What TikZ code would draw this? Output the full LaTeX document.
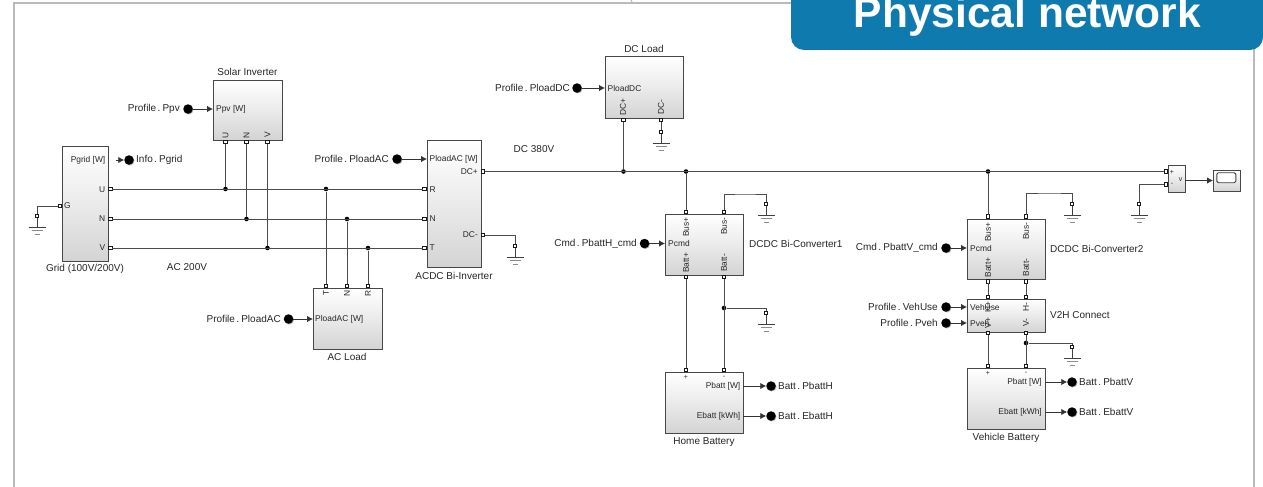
\documentclass[tikz,border=0pt]{standalone}
\usepackage{fontspec}
\setmainfont{Liberation Sans}
\usetikzlibrary{arrows.meta,shadows}
\definecolor{bannerblue}{HTML}{0F7AAD}
\newcommand{\sigfont}{\fontsize{10}{12}\selectfont\spaceskip=1.3pt\relax}
\tikzset{
  block/.style={rectangle,draw=black!72,line width=1pt,outer sep=0pt,top color=white,bottom color=black!17,middle color=white!92!black,
    drop shadow={shadow xshift=1pt,shadow yshift=-1pt,opacity=.35,fill=black}},
  port/.style={rectangle,draw=black!90,fill=white,line width=1pt,inner sep=0pt,minimum size=3.6pt,outer sep=0pt},
  jn/.style={circle,fill=black,inner sep=0pt,minimum size=4.6pt},
  tag/.style={circle,fill=black,inner sep=0pt,minimum size=9.5pt,outer sep=0pt,
    drop shadow={shadow xshift=.7pt,shadow yshift=-.7pt,opacity=.35,fill=black}},
  txt/.style={font=\fontsize{10}{12}\selectfont,text=black!85,inner sep=0pt},
  sigtxt/.style={font=\sigfont,text=black!85,inner sep=0pt},
  intxt/.style={font=\fontsize{8.4}{10}\selectfont,text=black!85,inner sep=0pt},
  rottxt/.style={intxt,rotate=90},
  tinytxt/.style={font=\fontsize{7}{8}\selectfont,text=black!85,inner sep=0pt},
  wire/.style={draw=black!70,line width=1pt},
  sig/.style={draw=black!80,line width=.9pt,-{Latex[length=6pt,width=6.5pt]}},
  gnd/.pic={
    \draw[black!75,line width=1pt] (0,2) -- (0,11);
    \draw[black!75,line width=1pt] (-8.5,11) -- (8.5,11);
    \draw[black!45,line width=.8pt] (-5.5,14.5) -- (5.5,14.5);
    \draw[black!45,line width=.8pt] (-2.5,18) -- (2.5,18);
  }
}
\begin{document}
\begin{tikzpicture}[x=1pt,y=-1pt]
      \useasboundingbox (0,0) rectangle (1263,487);
      \clip (0,0) rectangle (1263,487);
      \draw[black!27,line width=2pt] (13.5,487) -- (13.5,3) -- (1254,3) -- (1254,487);
      \draw[black!27,line width=1pt] (631,0) -- (633,4);
      \draw
        (1027,15) node[fill=bannerblue,rounded corners=13pt,minimum width=472pt,minimum height=70pt] (banner){}
        (1027.5,28) node[anchor=base,font=\bfseries\fontsize{42.5}{44}\selectfont,text=white,inner sep=0pt] (bannertext){Physical network};
      \draw
        (85,203.5) node[block,minimum width=46pt,minimum height=115pt] (grid){}
        (247.5,110) node[block,minimum width=69pt,minimum height=60pt] (solar){}
        (454,203.5) node[block,minimum width=54pt,minimum height=127pt] (acdc){}
        (347.5,318.5) node[block,minimum width=69pt,minimum height=61pt] (acload){}
        (644,87.5) node[block,minimum width=78pt,minimum height=61pt] (dcload){}
        (704,244.5) node[block,minimum width=78pt,minimum height=61pt] (convA){}
        (704,402.5) node[block,minimum width=78pt,minimum height=61pt] (home){}
        (1006,249) node[block,minimum width=78pt,minimum height=60pt] (convB){}
        (1006,315.5) node[block,minimum width=78pt,minimum height=33pt] (vtoh){}
        (1006,398.5) node[block,minimum width=78pt,minimum height=61pt] (veh){}
        (1176.5,178.5) node[block,minimum width=17pt,minimum height=27pt] (volt){}
        (1226.5,180.5) node[block,minimum width=27pt,minimum height=21pt] (scopebox){}
        (1226.3,177.7) node[draw=black!75,fill=white,line width=.9pt,rounded corners=1.5pt,inner sep=0pt,minimum width=19pt,minimum height=10pt] (scopescreen){};
      \draw
        (85,269) node[txt] (gridname){Grid (100V/200V)}
        (247.5,72) node[txt] (solarname){Solar Inverter}
        (454,276) node[txt] (acdcname){ACDC Bi-Inverter}
        (347,357) node[txt] (acloadname){AC Load}
        (644,49) node[txt] (dcloadname){DC Load}
        (749,244) node[txt,anchor=west] (convAname){DCDC Bi-Converter1}
        (704,442) node[txt] (homename){Home Battery}
        (1050,248.5) node[txt,anchor=west] (convBname){DCDC Bi-Converter2}
        (1050,315) node[txt,anchor=west] (vtohname){V2H Connect}
        (1006,438) node[txt] (vehname){Vehicle Battery}
        (187,267) node[txt] (acvolt){AC 200V}
        (534,149) node[txt] (dcvolt){DC 380V};
      \draw
        (105.5,160) node[intxt,anchor=east] (gridP){Pgrid [W]}
        (105.5,189.5) node[intxt,anchor=east] (gridUt){U}
        (105.5,219) node[intxt,anchor=east] (gridNt){N}
        (105.5,248) node[intxt,anchor=east] (gridVt){V}
        (64,206) node[intxt,anchor=west] (gridGt){G}
        (216,109) node[intxt,anchor=west] (solarP){Ppv [W]}
        (225.5,135) node[rottxt] (solarUt){U}
        (246.5,135) node[rottxt] (solarNt){N}
        (267.5,135) node[rottxt] (solarVt){V}
        (429.5,159) node[intxt,anchor=west] (acdcP){PloadAC [W]}
        (429.5,189.5) node[intxt,anchor=west] (acdcRt){R}
        (429.5,219) node[intxt,anchor=west] (acdcNt){N}
        (429.5,248) node[intxt,anchor=west] (acdcTt){T}
        (478,172) node[intxt,anchor=east] (acdcPt){DC+}
        (478,235) node[intxt,anchor=east] (acdcMt){DC-}
        (326,293) node[rottxt] (acloadTt){T}
        (347,293) node[rottxt] (acloadNt){N}
        (368,293) node[rottxt] (acloadRt){R}
        (315,319.5) node[intxt,anchor=west] (acloadP){PloadAC [W]}
        (607.5,88) node[intxt,anchor=west] (dcloadP){PloadDC}
        (623,107) node[rottxt] (dcloadPt){DC+}
        (661,107) node[rottxt] (dcloadMt){DC-}
        (668,243.5) node[intxt,anchor=west] (convAP){Pcmd}
        (686,227) node[rottxt] (convAbp){Bus+}
        (724,226) node[rottxt] (convAbm){Bus-}
        (686,263) node[rottxt] (convAap){Batt+}
        (724,263) node[rottxt] (convAam){Batt-}
        (970,248) node[intxt,anchor=west] (convBP){Pcmd}
        (988,232) node[rottxt] (convBbp){Bus+}
        (1026,231) node[rottxt] (convBbm){Bus-}
        (988,267.5) node[rottxt] (convBap){Batt+}
        (1026,267.5) node[rottxt] (convBam){Batt-}
        (970,307) node[intxt,anchor=west] (vtohU){VehUse}
        (970,323) node[intxt,anchor=west] (vtohP){Pveh}
        (988,307) node[rottxt] (vtohHp){H+}
        (1026,307) node[rottxt] (vtohHm){H-}
        (988,323) node[rottxt] (vtohVp){V+}
        (1026,323) node[rottxt] (vtohVm){V-}
        (686,377) node[tinytxt] (homePt){+}
        (724,377) node[tinytxt] (homeMt){-}
        (740.5,386.5) node[intxt,anchor=east] (homeP){Pbatt [W]}
        (740.5,416.5) node[intxt,anchor=east] (homeE){Ebatt [kWh]}
        (988,373) node[tinytxt] (vehPt){+}
        (1026,373) node[tinytxt] (vehMt){-}
        (1042,382.5) node[intxt,anchor=east] (vehP){Pbatt [W]}
        (1042,412.5) node[intxt,anchor=east] (vehE){Ebatt [kWh]}
        (1172,172) node[tinytxt] (voltPt){+}
        (1172,184.5) node[tinytxt] (voltMt){-}
        (1180.5,180) node[tinytxt] (voltVt){v};
      \draw
        (110.5,189) node[port] (gridU){}
        (110.5,219) node[port] (gridN){}
        (110.5,248) node[port] (gridV){}
        (60,206) node[port] (gridG){}
        (225.5,142) node[port] (solarU){}
        (246.5,142) node[port] (solarN){}
        (267.5,142) node[port] (solarV){}
        (424.5,189) node[port] (acdcR){}
        (424.5,219) node[port] (acdcN){}
        (424.5,248) node[port] (acdcT){}
        (483,171.5) node[port] (acdcDCp){}
        (483,235) node[port] (acdcDCm){}
        (326,286) node[port] (acloadT){}
        (347,286) node[port] (acloadN){}
        (368,286) node[port] (acloadR){}
        (623.5,120) node[port] (dcloadDCp){}
        (661,120) node[port] (dcloadDCm){}
        (686,212) node[port] (convAbusp){}
        (724,212) node[port] (convAbusm){}
        (686,277) node[port] (convAbattp){}
        (724,277) node[port] (convAbattm){}
        (686,370) node[port] (homep){}
        (724,370) node[port] (homem){}
        (988,216.5) node[port] (convBbusp){}
        (1026,216.5) node[port] (convBbusm){}
        (988,281.5) node[port] (convBbattp){}
        (1026,281.5) node[port] (convBbattm){}
        (988,297) node[port] (vtohHpp){}
        (1026,297) node[port] (vtohHmp){}
        (988,333) node[port] (vtohVpp){}
        (1026,333) node[port] (vtohVmp){}
        (988,366) node[port] (vehp){}
        (1026,366) node[port] (vehm){}
        (1166,171.5) node[port] (voltp){}
        (1166,184.5) node[port] (voltm){};
      \draw
        (37,216) node[port] (gndgrid){} pic {gnd}
        (515,246) node[port] (gndacdc){} pic {gnd}
        (661,132) node[port] (gnddc){} pic {gnd}
        (766,204) node[port] (gndconvA){} pic {gnd}
        (766,313) node[port] (gndhome){} pic {gnd}
        (1072,204) node[port] (gndconvB){} pic {gnd}
        (1072,347) node[port] (gndveh){} pic {gnd}
        (1139,204) node[port] (gndvolt){} pic {gnd};
      \draw
        (225.5,189) node[jn] (jsolarU){}
        (246.5,219) node[jn] (jsolarN){}
        (267.5,248) node[jn] (jsolarV){}
        (326,189) node[jn] (jloadT){}
        (347,219) node[jn] (jloadN){}
        (368,248) node[jn] (jloadR){}
        (623.5,171.5) node[jn] (jdc){}
        (686,171.5) node[jn] (jconvA){}
        (988,171.5) node[jn] (jconvB){}
        (724,308) node[jn] (jhome){}
        (1026,343) node[jn] (jveh){};
      \coordinate (pgridout) at (116,160);
      \draw
        (188,109) node[tag] (ppvdot){}
        (180,109) node[sigtxt,anchor=east] (ppvname){Profile . Ppv}
        (129,160) node[tag] (pgriddot){}
        (136,160) node[sigtxt,anchor=west] (pgridname){Info . Pgrid}
        (397,159) node[tag] (ploadacdot){}
        (389,159) node[sigtxt,anchor=east] (ploadacname){Profile . PloadAC}
        (288.5,319) node[tag] (ploadacdotB){}
        (281,319) node[sigtxt,anchor=east] (ploadacnameB){Profile . PloadAC}
        (577,88) node[tag] (ploaddcdot){}
        (570,88) node[sigtxt,anchor=east] (ploaddcname){Profile . PloadDC}
        (644.5,243.5) node[tag] (cmdAdot){}
        (637,243.5) node[sigtxt,anchor=east] (cmdAname){Cmd . PbattH\_cmd}
        (946,248) node[tag] (cmdBdot){}
        (938,248) node[sigtxt,anchor=east] (cmdBname){Cmd . PbattV\_cmd}
        (946,307) node[tag] (vehusedot){}
        (938,307) node[sigtxt,anchor=east] (vehusename){Profile . VehUse}
        (946,323) node[tag] (pvehdot){}
        (938,323) node[sigtxt,anchor=east] (pvehname){Profile . Pveh}
        (771,386) node[tag] (pbatthdot){}
        (778,386) node[sigtxt,anchor=west] (pbatthname){Batt . PbattH}
        (771,416) node[tag] (ebatthdot){}
        (778,416) node[sigtxt,anchor=west] (ebatthname){Batt . EbattH}
        (1072,382) node[tag] (pbattvdot){}
        (1079,382) node[sigtxt,anchor=west] (pbattvname){Batt . PbattV}
        (1072,412) node[tag] (ebattvdot){}
        (1079,412) node[sigtxt,anchor=west] (ebattvname){Batt . EbattV};
      \begin{scope}[wire]
        \draw (gridU) to (acdcR);
        \draw (gridN) to (acdcN);
        \draw (gridV) to (acdcT);
        \draw (gridG) -| (gndgrid);
        \draw (solarU) to (jsolarU);
        \draw (solarN) to (jsolarN);
        \draw (solarV) to (jsolarV);
        \draw (acloadT) to (jloadT);
        \draw (acloadN) to (jloadN);
        \draw (acloadR) to (jloadR);
        \draw (acdcDCm) -| (gndacdc);
        \draw (acdcDCp) to (voltp);
        \draw (dcloadDCp) to (jdc);
        \draw (dcloadDCm) to (gnddc);
        \draw (convAbusp) to (jconvA);
        \draw (convAbusm) |- (745,194) -| (gndconvA);
        \draw (convAbattp) to (homep);
        \draw (convAbattm) to (homem);
        \draw (jhome) -| (gndhome);
        \draw (convBbusp) to (jconvB);
        \draw (convBbusm) |- (1050,193) -| (gndconvB);
        \draw (convBbattp) to (vtohHpp);
        \draw (convBbattm) to (vtohHmp);
        \draw (vtohVpp) to (vehp);
        \draw (vtohVmp) to (vehm);
        \draw (jveh) -| (gndveh);
        \draw (voltm) -| (gndvolt);
      \end{scope}
      \begin{scope}[sig]
        \draw[sig] (ppvdot) to (solar.west |- ppvdot);
        \draw[sig] (pgridout) to (pgriddot);
        \draw[sig] (ploadacdot) to (acdc.west |- ploadacdot);
        \draw[sig] (ploadacdotB) to (acload.west |- ploadacdotB);
        \draw[sig] (ploaddcdot) to (dcload.west |- ploaddcdot);
        \draw[sig] (cmdAdot) to (convA.west |- cmdAdot);
        \draw[sig] (cmdBdot) to (convB.west |- cmdBdot);
        \draw[sig] (vehusedot) to (vtoh.west |- vehusedot);
        \draw[sig] (pvehdot) to (vtoh.west |- pvehdot);
        \draw[sig] (home.east |- pbatthdot) to (pbatthdot);
        \draw[sig] (home.east |- ebatthdot) to (ebatthdot);
        \draw[sig] (veh.east |- pbattvdot) to (pbattvdot);
        \draw[sig] (veh.east |- ebattvdot) to (ebattvdot);
        \draw[sig] (volt.east |- scopebox) to (scopebox);
      \end{scope}
    \end{tikzpicture}
\end{document}
